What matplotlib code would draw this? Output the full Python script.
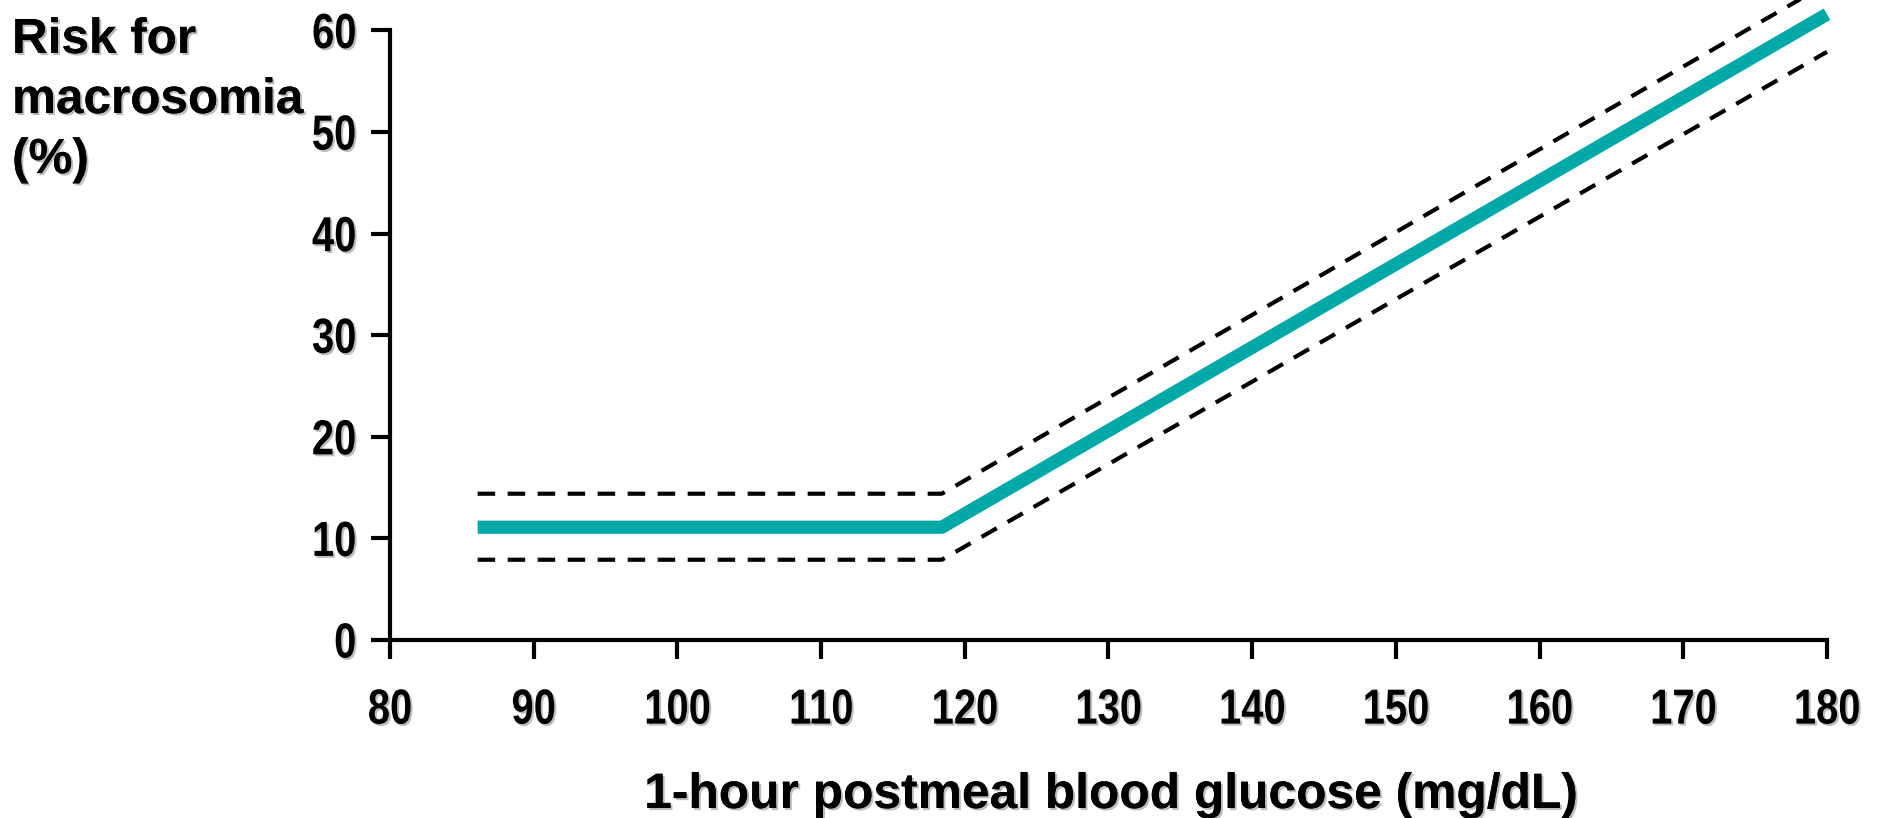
"""Macrosomia risk vs 1-hour postmeal glucose: piecewise-linear fit with CI band."""
import matplotlib
matplotlib.use("Agg")
import matplotlib.pyplot as plt
import matplotlib.patheffects as pe
from matplotlib.transforms import Affine2D

# fitted risk (%) and the dashed confidence limits
glucose = [86.1, 118.4, 180]
risk = [11.1, 11.1, 61.6]
upper = [14.4, 14.4, 64.6]
lower = [7.9, 7.9, 57.9]

xticks = [80, 90, 100, 110, 120, 130, 140, 150, 160, 170, 180]
yticks = [0, 10, 20, 30, 40, 50, 60]

TEAL = "#00A9A8"
FONT = ["Liberation Sans", "DejaVu Sans"]


class Narrow(pe.AbstractPathEffect):
    """Squeeze text horizontally (fake Arial Narrow) and add a soft drop shadow."""

    def __init__(self, sx=0.85, pivot="center", shadow=True):
        super().__init__()
        self.sx = sx
        self.pivot = pivot
        self.shadow = shadow

    def draw_path(self, renderer, gc, tpath, affine, rgbFace=None):
        ext = tpath.get_extents(affine)
        cx = ext.x1 if self.pivot == "right" else (ext.x0 + ext.x1) / 2
        tr = affine + Affine2D().translate(-cx, 0).scale(self.sx, 1).translate(cx, 0)
        if self.shadow:
            gc0 = renderer.new_gc()
            gc0.copy_properties(gc)
            gc0.set_foreground("#888888")
            gc0.set_alpha(0.55)
            renderer.draw_path(gc0, tpath, tr + Affine2D().translate(2, -2), (0.53, 0.53, 0.53, 0.55))
            gc0.restore()
        renderer.draw_path(gc, tpath, tr, rgbFace)


label_fx = [pe.withSimplePatchShadow(offset=(1.5, -1.5), shadow_rgbFace="#888888", alpha=0.55),
            pe.Normal()]

fig = plt.figure(figsize=(18.83, 8.18), dpi=100)
ax = fig.add_axes([390 / 1883, 1 - 640 / 818, (1827 - 390) / 1883, 640 / 818])

ax.plot(glucose, upper, color="black", lw=3, dashes=(4.2, 3), clip_on=False)
ax.plot(glucose, lower, color="black", lw=3, dashes=(4.2, 3), clip_on=False)
ax.plot(glucose, risk, color=TEAL, lw=9.5, solid_capstyle="butt", clip_on=False)

ax.set_xlim(80, 180)
ax.set_ylim(0, 63)
for s in ("top", "right"):
    ax.spines[s].set_visible(False)
for s in ("left", "bottom"):
    ax.spines[s].set_linewidth(3)
ax.spines["left"].set_bounds(0, 60)

ax.set_xticks(xticks)
ax.set_yticks(yticks)
ax.tick_params(axis="both", length=14, width=3, direction="out")
ax.tick_params(axis="x", pad=21)
ax.tick_params(axis="y", pad=10)
for lab in ax.get_xticklabels():
    lab.set_fontfamily(FONT)
    lab.set_fontweight("bold")
    lab.set_fontsize(35.5)
    lab.set_path_effects([Narrow(0.81, "center")])
for lab in ax.get_yticklabels():
    lab.set_fontfamily(FONT)
    lab.set_fontweight("bold")
    lab.set_fontsize(35.5)
    lab.set_path_effects([Narrow(0.81, "right")])

fig.text(12 / 1883, 1 - 18 / 818, "Risk for\nmacrosomia\n(%)", ha="left", va="top",
         fontsize=35.6, fontweight="bold", family=FONT, linespacing=1.43,
         path_effects=label_fx)
fig.text(1112 / 1883, 1 - 795 / 818, "1-hour postmeal blood glucose (mg/dL)",
         ha="center", va="center", fontsize=35.8, fontweight="bold",
         family=FONT, path_effects=label_fx)

fig.savefig("out.png", dpi=100)
